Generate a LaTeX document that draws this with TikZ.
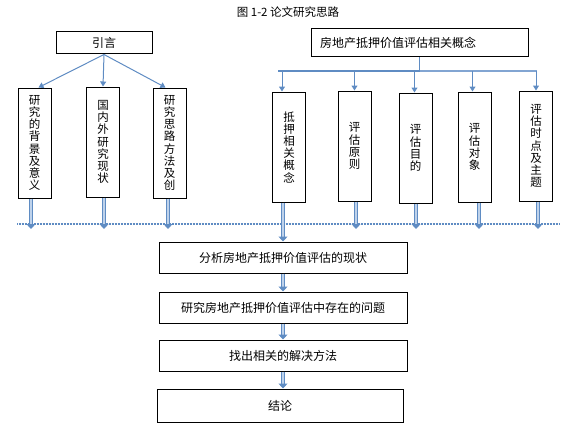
\documentclass[tikz,border=0pt]{standalone}
\usepackage{fontspec}
\newfontfamily\cjk{Noto Sans CJK SC}
\usetikzlibrary{arrows.meta}
\definecolor{arrowblue}{RGB}{95,140,195}
\definecolor{lightbus}{RGB}{130,165,210}
\definecolor{innerblue}{RGB}{190,210,235}
\tikzset{
  vbox/.style={draw, line width=1pt, minimum width=33pt, minimum height=110pt,
    inner sep=0pt, align=center, font=\cjk\fontsize{11.5}{12.2}\selectfont},
  hbox/.style={draw, line width=1pt, minimum width=248pt, minimum height=31pt,
    inner sep=0pt, font=\cjk\fontsize{12}{14}\selectfont},
  arr/.style={draw=arrowblue, line width=1pt, -{Triangle[width=6pt,length=5pt]}},
  dbl/.style={draw=arrowblue, double=innerblue, double distance=2.4pt,
    line width=1pt, -{Triangle[width=9pt,length=5pt]}},
  dotline/.style={draw=arrowblue, line width=2.2pt, dash pattern=on 1pt off 0.5pt}
}
\begin{document}
\begin{tikzpicture}[x=1pt, y=-1pt]
   \useasboundingbox (0,0) rectangle (567,436);
   \node[font=\cjk\fontsize{11.5}{13}\selectfont] (title) at (288,12) {图 1-2 论文研究思路};
   % left branch
   \node[hbox, minimum width=96pt, minimum height=22pt] (yin) at (104,43) {引言};
   \node[vbox] (l1) at (34.5,143) {研\\究\\的\\背\\景\\及\\意\\义};
   \node[vbox] (l2) at (103,142) {国\\内\\外\\研\\究\\现\\状};
   \node[vbox] (l3) at (169.5,143) {研\\究\\思\\路\\方\\法\\及\\创};
   \foreach \n/\s in {l1/4, l2/0, l3/-4}
     \draw[arr] (yin.south) -- ([xshift=\s pt]\n.north);
   % right branch
   \node[hbox, minimum width=217pt, minimum height=28pt, text width=199pt,
     inner xsep=9pt, align=left] (fang) at (419.5,43) {房地产抵押价值评估相关概念};
   \node[vbox] (r1) at (289,147) {抵\\押\\相\\关\\概\\念};
   \node[vbox] (r2) at (354.5,146) {评\\估\\原\\则};
   \node[vbox] (r3) at (415.5,148) {评\\估\\目\\的};
   \node[vbox] (r4) at (474.5,147) {评\\估\\对\\象};
   \node[vbox] (r5) at (536,146) {评\\估\\时\\点\\及\\主\\题};
   \coordinate (busL) at (278,71);
   \coordinate (busR) at (537,71);
   \coordinate (busM) at (fang.south |- busL);
   \draw[draw=arrowblue, line width=2.6pt] (busL) -- (busM);
   \draw[draw=lightbus, line width=1.3pt] (busM) -- (busR);
   \draw[draw=arrowblue, line width=1.2pt] (fang.south) -- (busM);
   \foreach \n/\s in {r1/-7, r2/0, r3/-1, r4/-2, r5/0}
     \draw[arr] ([xshift=\s pt]\n.north |- busL) -- ([xshift=\s pt]\n.north);
   % dotted collector line
   \coordinate (dotL) at (17,224);
   \coordinate (dotR) at (560,224);
   \coordinate (ends) at (0,229);
   \draw[dotline] (dotL) -- (dotR);
   % bottom chain
   \node[hbox] (an) at (283,257.5) {分析房地产抵押价值评估的现状};
   \node[hbox] (wt) at (283,307.5) {研究房地产抵押价值评估中存在的问题};
   \node[hbox] (ff) at (283,355.5) {找出相关的解决方法};
   \node[hbox, minimum width=246pt, minimum height=33pt] (jl) at (280,405.5) {结论};
   \foreach \n/\s in {l1/-3.5, l2/1, l3/-1.5, r2/1.5, r3/0.5, r4/4.5, r5/2}
     \draw[dbl] ([xshift=\s pt]\n.south) -- ([xshift=\s pt]\n.south |- ends);
   \draw[dbl] (an.north |- r1.south) -- (an.north);
   \draw[dbl] (an.south) -- (wt.north);
   \draw[dbl] (wt.south) -- (ff.north);
   \draw[dbl] (ff.south) -- (ff.south |- jl.north);
\end{tikzpicture}
\end{document}
